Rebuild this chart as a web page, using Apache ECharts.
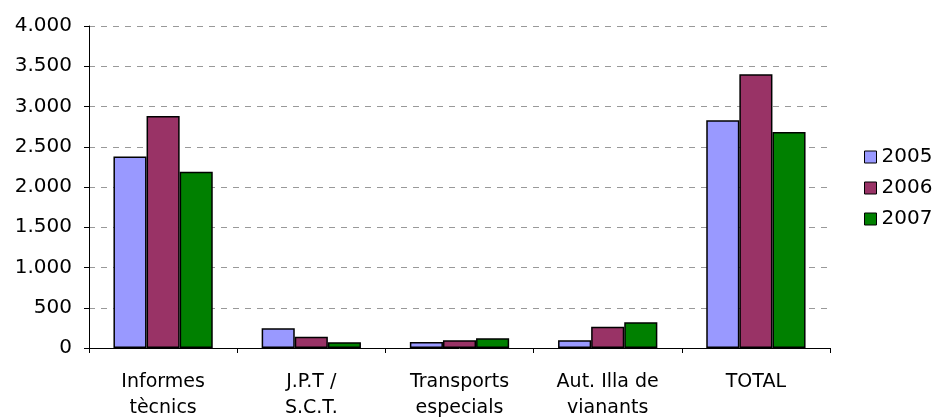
<!DOCTYPE html>
<html>
<head>
<meta charset="utf-8">
<script src="https://cdn.jsdelivr.net/npm/echarts@6/dist/echarts.min.js"></script>
<style>
html, body { margin: 0; padding: 0; background: #fff; }
#chart { width: 938px; height: 417px; }
</style>
</head>
<body>
<div id="chart"></div>
<script>
var categories = ['Informes\ntècnics', 'J.P.T /\nS.C.T.', 'Transports\nespecials', 'Aut. Illa de\nvianants', 'TOTAL'];
var years = ['2005', '2006', '2007'];
var values2005 = [2380, 245, 75, 96, 2828];
var values2006 = [2882, 140, 96, 265, 3400];
var values2007 = [2188, 71, 120, 319, 2684];
var colors = ['#9999ff', '#993366', '#008000'];

var fontName = 'DejaVu Sans';

var fmt = function (v) {
	return String(v).replace(/\B(?=(\d{3})+(?!\d))/g, '.');
};

var chart = echarts.init(document.getElementById('chart'));
var seriesData = [values2005, values2006, values2007];
var series = [];
for (var i = 0; i < years.length; i++) {
	series.push({
		name: years[i],
		type: 'bar',
		data: seriesData[i],
		barGap: '0%',
		barCategoryGap: '33%',
		itemStyle: { color: colors[i], borderColor: '#000', borderWidth: 1.5 }
	});
}
chart.setOption({
	animation: false,
	textStyle: { fontFamily: fontName },
	color: colors,
	grid: { left: 89, right: 108, top: 26, bottom: 69, containLabel: false, outerBoundsMode: 'none' },
	legend: {
		orient: 'vertical',
		left: 859,
		top: 142,
		itemWidth: 12,
		itemHeight: 12,
		itemGap: 11,
		icon: 'rect',
		textStyle: { fontFamily: fontName, fontSize: 20, color: '#000' },
		itemStyle: { borderColor: '#000', borderWidth: 1 },
		data: years
	},
	xAxis: {
		type: 'category',
		data: categories,
		axisLine: { lineStyle: { color: '#000', width: 1 } },
		axisTick: { show: true, length: 5, lineStyle: { color: '#000' } },
		axisLabel: { color: '#000', fontSize: 19, lineHeight: 26, margin: 21, interval: 0 }
	},
	yAxis: {
		type: 'value',
		min: 0,
		max: 4000,
		interval: 500,
		axisLine: { show: true, lineStyle: { color: '#000', width: 1 } },
		axisTick: { show: true, length: 5, lineStyle: { color: '#000' } },
		axisLabel: { color: '#000', fontSize: 20, margin: 17, formatter: fmt },
		splitLine: { lineStyle: { color: '#999', type: [6, 6] } }
	},
	series: series
});
</script>
</body>
</html>
